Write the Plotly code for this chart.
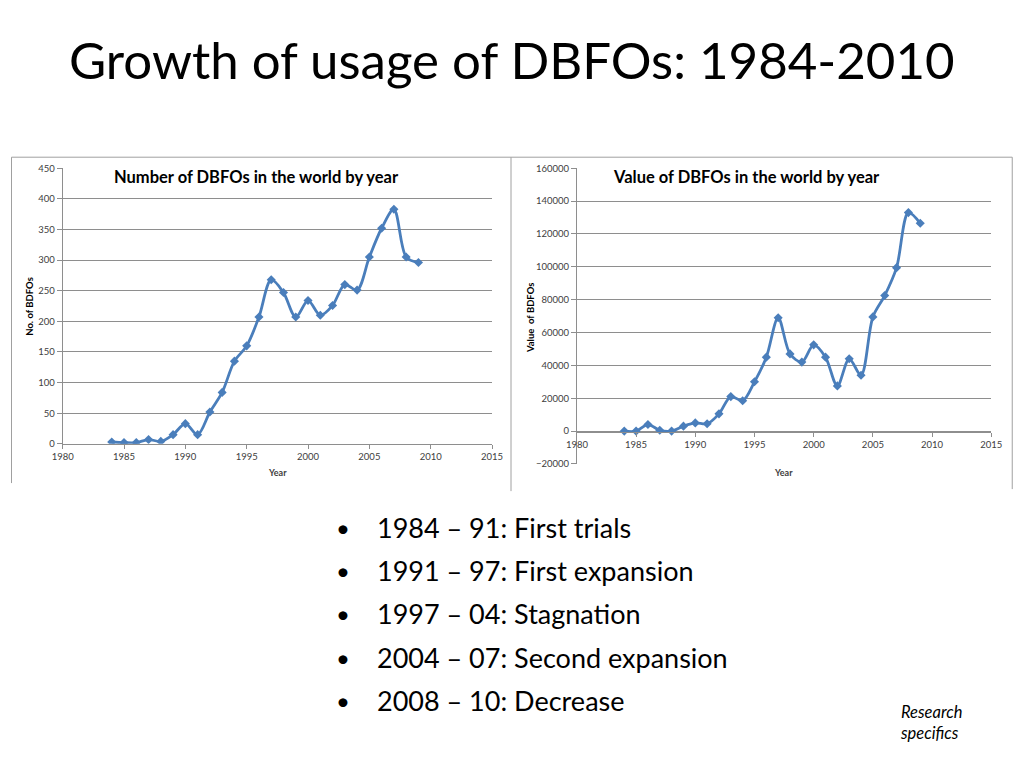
import plotly.graph_objects as go

years = list(range(1984, 2010))
num_dbfos = [3, 2, 2, 7, 4, 15, 33, 15, 52, 84, 135, 160, 207, 268, 247, 207,
             234, 210, 226, 260, 251, 305, 352, 383, 305, 296]
val_dbfos = [0, 0, 4000, 500, 0, 3000, 5000, 4500, 10500, 21000, 18500, 30000,
             45000, 69000, 47000, 42000, 52500, 45000, 27500, 44000, 34000,
             69500, 82500, 99500, 133000, 126500]
bullets = ["1984 \u2013 91: First trials", "1991 \u2013 97: First expansion",
           "1997 \u2013 04: Stagnation", "2004 \u2013 07: Second expansion",
           "2008 \u2013 10: Decrease"]

W, H = 1024, 768
S = 0.98  # compensation for the slight shrink seen in the rendered picture
def px(x):
    page = W / 2 + (x - W / 2) / S
    return max(0.0005, min(0.9995, page / W))
def py(y):
    page = H / 2 + (y - H / 2) / S
    return 1 - page / H

BLUE = "#4A7EBB"
GRID = "#8E8E8E"
TICKC = "#404040"
FONT = "Lato"

fig = go.Figure()
fig.add_trace(go.Scatter(x=years, y=num_dbfos, mode="lines+markers",
                         line=dict(color=BLUE, width=2.8, shape="spline", smoothing=0.9),
                         marker=dict(symbol="diamond", size=7, color=BLUE),
                         xaxis="x", yaxis="y", showlegend=False))
fig.add_trace(go.Scatter(x=years, y=val_dbfos, mode="lines+markers",
                         line=dict(color=BLUE, width=2.8, shape="spline", smoothing=0.9),
                         marker=dict(symbol="diamond", size=7, color=BLUE),
                         xaxis="x2", yaxis="y2", showlegend=False))

tickfont = dict(family=FONT, size=9.5, color=TICKC)
common_x = dict(range=[1980, 2015], dtick=5, tick0=1980, showgrid=False, zeroline=False,
                showline=True, linecolor=GRID, linewidth=1, ticks="outside",
                ticklen=4, tickcolor=GRID, tickfont=tickfont)
common_y = dict(showgrid=True, gridcolor=GRID, gridwidth=1, zeroline=False,
                showline=True, linecolor=GRID, linewidth=1, ticks="outside",
                ticklen=5, tickcolor=GRID, tickfont=tickfont, tickformat="d")

fig.update_layout(
    width=W, height=H, margin=dict(l=0, r=0, t=0, b=0),
    paper_bgcolor="white", plot_bgcolor="white", hovermode=False,
    xaxis=dict(domain=[px(62), px(492)], anchor="y", **common_x),
    yaxis=dict(domain=[py(443), py(169)], anchor="x", range=[0, 450], dtick=50, **common_y),
    xaxis2=dict(domain=[px(577), px(992)], anchor="free", position=py(431), **common_x),
    yaxis2=dict(domain=[py(463), py(169)], anchor="x2", range=[-20000, 160000],
                dtick=20000, **common_y),
)

ann = []
ann.append(dict(text="Growth of usage of DBFOs: 1984-2010", x=px(512), y=py(61),
                xref="paper", yref="paper", showarrow=False, xanchor="center", yanchor="middle",
                font=dict(family=FONT, size=51, color="black")))
ann.append(dict(text="<b>Number of DBFOs in the world by year</b>", x=px(111), y=py(178),
                xref="paper", yref="paper", showarrow=False, xanchor="left", yanchor="middle",
                font=dict(family=FONT, size=16.5, color="black")))
ann.append(dict(text="<b>Value of DBFOs in the world by year</b>", x=px(611), y=py(178),
                xref="paper", yref="paper", showarrow=False, xanchor="left", yanchor="middle",
                font=dict(family=FONT, size=16.5, color="black")))
for xx in (277, 784):
    ann.append(dict(text="<b>Year</b>", x=px(xx), y=py(471), xref="paper", yref="paper",
                    showarrow=False, xanchor="center", yanchor="middle",
                    font=dict(family=FONT, size=9, color=TICKC)))
ann.append(dict(text="<b>No. of BDFOs</b>", x=px(28), y=py(306), xref="paper", yref="paper",
                showarrow=False, textangle=-90, xanchor="center", yanchor="middle",
                font=dict(family=FONT, size=9.5, color="black")))
ann.append(dict(text="<b>Value  of BDFOs</b>", x=px(530), y=py(317), xref="paper", yref="paper",
                showarrow=False, textangle=-90, xanchor="center", yanchor="middle",
                font=dict(family=FONT, size=9.5, color="black")))
for i, b in enumerate(bullets):
    yy = 526 + 43 * i
    ann.append(dict(text="\u2022", x=px(343), y=py(yy), xref="paper", yref="paper",
                    showarrow=False, xanchor="center", yanchor="middle",
                    font=dict(family=FONT, size=24, color="black")))
    ann.append(dict(text=b, x=px(375), y=py(yy), xref="paper", yref="paper",
                    showarrow=False, xanchor="left", yanchor="middle",
                    font=dict(family=FONT, size=27, color="black")))
ann.append(dict(text="<i>Research<br>specifics</i>", x=px(899), y=py(720), xref="paper",
                yref="paper", showarrow=False, xanchor="left", yanchor="middle", align="left",
                font=dict(family=FONT, size=16.5, color="black")))
fig.update_layout(annotations=ann)

frame = "#A0A0A0"
shapes = [
    dict(type="line", xref="paper", yref="paper", x0=px(10), x1=px(10), y0=py(158), y1=py(482),
         line=dict(color=frame, width=1)),
    dict(type="line", xref="paper", yref="paper", x0=px(10), x1=px(1013), y0=py(158), y1=py(158),
         line=dict(color=frame, width=1)),
    dict(type="line", xref="paper", yref="paper", x0=px(511), x1=px(511), y0=py(158), y1=py(490),
         line=dict(color=frame, width=1)),
    dict(type="line", xref="paper", yref="paper", x0=px(1013), x1=px(1013), y0=py(158), y1=py(488),
         line=dict(color=frame, width=1)),
]
fig.update_layout(shapes=shapes)

fig.write_html("out.html", config={"displayModeBar": False},
               post_script="document.body.style.margin='0px';")
